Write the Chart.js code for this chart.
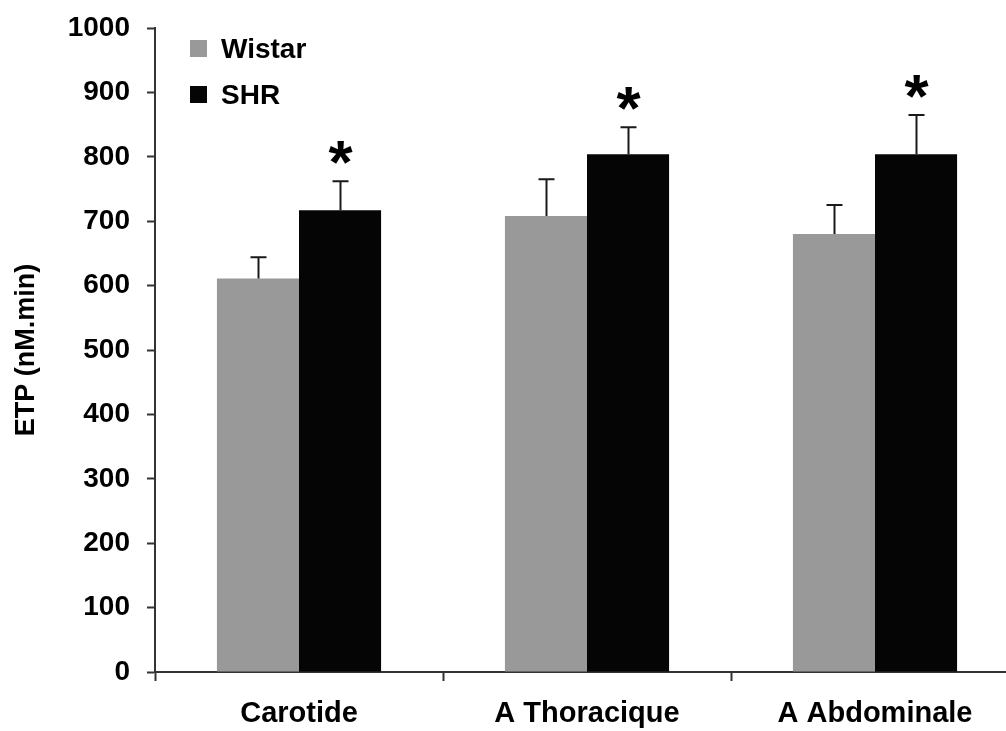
<!DOCTYPE html>
<html>
<head>
<meta charset="utf-8">
<script src="https://cdn.jsdelivr.net/npm/chart.js@4"></script>
<style>
  html, body { margin: 0; padding: 0; background: #ffffff; overflow: hidden; width: 1006px; height: 731px; }
  #wrap { position: absolute; left: 0; top: 0; width: 1022px; height: 731px; }
</style>
</head>
<body>
<div id="wrap"><canvas id="c" width="1022" height="731"></canvas></div>
<script>
// ---- data ----
const categories = ["Carotide", "A Thoracique", "A Abdominale"];
const seriesNames = ["Wistar", "SHR"];
const wistarValues = [611, 708, 680];
const wistarErrors = [33, 57, 45];
const shrValues = [717, 804, 804];
const shrErrors = [45, 42, 61];
const shrSignificance = ["*", "*", "*"];
const yTicks = [0, 100, 200, 300, 400, 500, 600, 700, 800, 900, 1000];
const yTitle = "ETP (nM.min)";

const FONT = "'Liberation Sans', Arial, sans-serif";

const errorBars = [wistarErrors, shrErrors];
const significance = [null, shrSignificance];

const errorBarPlugin = {
  id: 'errorBars',
  afterDatasetsDraw(chart) {
    const ctx = chart.ctx;
    const yScale = chart.scales.y;
    chart.data.datasets.forEach((ds, di) => {
      const meta = chart.getDatasetMeta(di);
      const errs = errorBars[di];
      meta.data.forEach((bar, i) => {
        const v = ds.data[i];
        const e = errs[i];
        const yTop = yScale.getPixelForValue(v + e);
        const yBase = yScale.getPixelForValue(v);
        const x = Math.round(bar.x) + 0.5;
        ctx.save();
        ctx.strokeStyle = '#1a1a1a';
        ctx.lineWidth = 2;
        ctx.beginPath();
        ctx.moveTo(x, yBase);
        ctx.lineTo(x, yTop);
        ctx.moveTo(x - 8, yTop);
        ctx.lineTo(x + 8, yTop);
        ctx.stroke();
        const sig = significance[di];
        if (sig && sig[i]) {
          ctx.fillStyle = '#000';
          ctx.font = "bold 62px " + FONT;
          ctx.textAlign = 'center';
          ctx.textBaseline = 'alphabetic';
          ctx.fillText(sig[i], x, yTop + 2);
        }
        ctx.restore();
      });
    });
  }
};

const legendPlugin = {
  id: 'insideLegend',
  afterDraw(chart) {
    const ctx = chart.ctx;
    const left = chart.chartArea.left + 35;
    const top = chart.chartArea.top + 12;
    chart.data.datasets.forEach((ds, di) => {
      const y = top + di * 46;
      ctx.save();
      ctx.fillStyle = ds.backgroundColor;
      ctx.fillRect(left, y, 17, 17);
      ctx.fillStyle = '#000';
      ctx.font = "bold 28px " + FONT;
      ctx.textAlign = 'left';
      ctx.textBaseline = 'alphabetic';
      ctx.fillText(ds.label, left + 31, y + 18);
      ctx.restore();
    });
  }
};

new Chart(document.getElementById('c'), {
  type: 'bar',
  data: {
    labels: categories,
    datasets: [
      { label: seriesNames[0], data: wistarValues, backgroundColor: '#999999', borderWidth: 0 },
      { label: seriesNames[1], data: shrValues, backgroundColor: '#050505', borderWidth: 0 }
    ]
  },
  options: {
    responsive: false,
    animation: false,
    devicePixelRatio: 1,
    layout: { padding: { top: 28, right: 3, bottom: 0, left: 0 } },
    datasets: { bar: { barPercentage: 1.0, categoryPercentage: 0.57 } },
    plugins: {
      legend: { display: false },
      tooltip: { enabled: false }
    },
    scales: {
      x: {
        offset: true,
        grid: { display: true, drawOnChartArea: false, drawTicks: true, tickLength: 9, tickColor: '#333', tickWidth: 2, offset: true },
        border: { display: true, color: '#333', width: 2 },
        ticks: { color: '#000', font: { family: FONT, size: 29, weight: 'bold' }, padding: 16, maxRotation: 0, autoSkip: false },
        afterFit(scale) { scale.height = 59; scale.paddingLeft = 0; scale.paddingRight = 0; }
      },
      y: {
        min: 0,
        max: 1000,
        afterBuildTicks(scale) { scale.ticks = yTicks.map(v => ({ value: v })); },
        grid: { display: true, drawOnChartArea: false, drawTicks: true, tickLength: 8, tickColor: '#333', tickWidth: 2 },
        border: { display: true, color: '#333', width: 2 },
        ticks: { color: '#000', font: { family: FONT, size: 28, weight: 'bold' }, padding: 17, callback: (v) => String(v) },
        title: { display: true, text: yTitle, color: '#000', font: { family: FONT, size: 27, weight: 'bold' }, padding: { top: 10, bottom: 0 } },
        afterFit(scale) { scale.width = 155; scale.paddingTop = 0; scale.paddingBottom = 0; }
      }
    }
  },
  plugins: [errorBarPlugin, legendPlugin]
});
</script>
</body>
</html>
